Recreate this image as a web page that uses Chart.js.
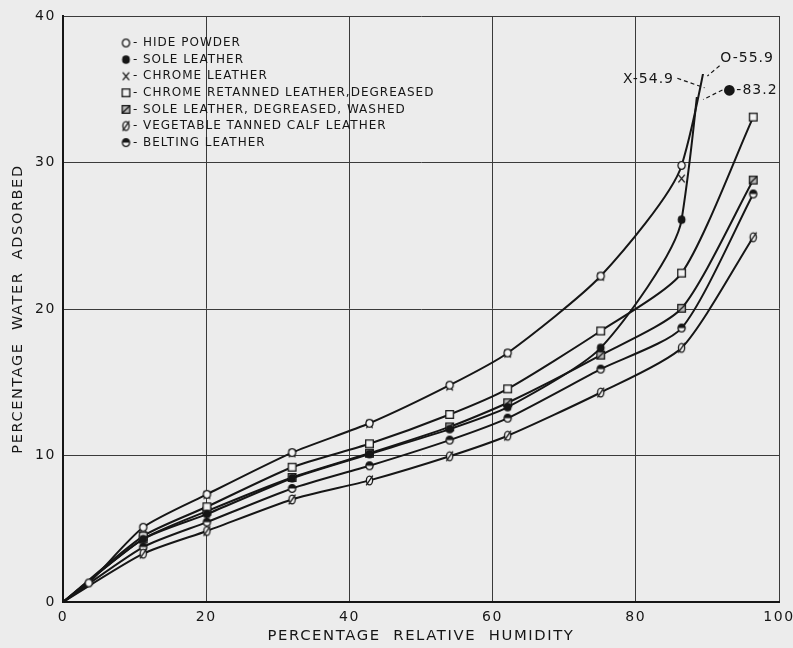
<!DOCTYPE html>
<html><head><meta charset="utf-8">
<script src="https://cdn.jsdelivr.net/npm/chart.js@4.4.1/dist/chart.umd.min.js"></script>
<style>html,body{margin:0;padding:0;background:#ececec;}canvas{display:block;}</style>
</head><body>
<canvas id="c" width="793" height="648"></canvas>
<script>
// ---- data ----
const relativeHumidity = [0, 3.6, 11.2, 20.1, 32.0, 42.8, 54.0, 62.1, 75.1, 86.4, 96.4];
const hidePowder      = [0, 1.3, 5.1, 7.35, 10.2, 12.2, 14.8, 17.0, 22.25, 29.8, 55.9];
const soleLeather     = [0, null, 4.3, 6.0, 8.45, 10.1, 11.8, 13.3, 17.35, 26.1, 83.2];
const chromeLeather   = [null, null, 5.0, 7.3, 10.15, 12.15, 14.7, 16.95, 22.2, 28.9, 54.9];
const chromeRetanned  = [0, null, 4.5, 6.5, 9.2, 10.8, 12.8, 14.55, 18.5, 22.45, 33.1];
const soleDegreased   = [0, null, 4.3, 6.2, 8.5, 10.15, 11.95, 13.6, 16.85, 20.05, 28.8];
const vegetableCalf   = [0, null, 3.3, 4.85, 7.0, 8.3, 9.95, 11.35, 14.3, 17.35, 24.9];
const beltingLeather  = [0, null, 3.75, 5.45, 7.75, 9.3, 11.05, 12.55, 15.9, 18.7, 27.85];
const xTickValues = [0, 20, 40, 60, 80, 100];
const yTickValues = [0, 10, 20, 30, 40];
const seriesLabels = ['HIDE POWDER','SOLE LEATHER','CHROME LEATHER','CHROME RETANNED LEATHER,DEGREASED','SOLE LEATHER, DEGREASED, WASHED','VEGETABLE TANNED CALF LEATHER','BELTING LEATHER'];
const offChartNotes = [
  {text:'O-55.9', at:[91.8, 37.1], from:[91.7, 36.6], to:[90.0, 35.9]},
  {text:'X-54.9', at:[78.2, 35.7], from:[85.8, 35.75], to:[89.6, 35.1]},
  {text:'●-83.2', at:[92.2, 34.95], from:[92.1, 34.95], to:[89.4, 34.3]}
];

const INK = '#161616';
function marker(kind){
  const s = 13, c = document.createElement('canvas'); c.width = s; c.height = s;
  const g = c.getContext('2d'); g.translate(s/2, s/2);
  g.lineWidth = 1.3; g.strokeStyle = INK; g.fillStyle = '#f4f4f4';
  const circ = (rx, ry) => { g.beginPath(); g.ellipse(0, 0, rx, ry, 0, 0, Math.PI*2); };
  if (kind === 'o') { circ(3.6, 3.9); g.fill(); g.stroke(); }
  else if (kind === 'dot') { g.fillStyle = INK; circ(3.9, 4.3); g.fill(); }
  else if (kind === 'x') { g.beginPath(); g.moveTo(-3.2,-3.8); g.lineTo(3.2,3.8); g.moveTo(3.2,-3.8); g.lineTo(-3.2,3.8); g.stroke(); }
  else if (kind === 'sq') { g.fillRect(-3.8,-3.8,7.6,7.6); g.strokeRect(-3.8,-3.8,7.6,7.6); }
  else if (kind === 'sqs') { g.fillStyle='#bbb'; g.fillRect(-3.8,-3.8,7.6,7.6); g.strokeRect(-3.8,-3.8,7.6,7.6);
    g.beginPath(); g.moveTo(-3.8,3.8); g.lineTo(3.8,-3.8); g.stroke(); }
  else if (kind === 'os') { circ(3.1, 4.3); g.fill(); g.stroke(); g.beginPath(); g.moveTo(-3.3,4.8); g.lineTo(3.3,-4.8); g.stroke(); }
  else if (kind === 'half') { circ(3.6, 3.9); g.fill(); g.beginPath(); g.ellipse(0,0,3.6,3.9,0,Math.PI,Math.PI*2); g.closePath(); g.fillStyle = INK; g.fill(); circ(3.6,3.9); g.stroke(); }
  return c;
}
const markers = ['o','dot','x','sq','sqs','os','half'].map(marker);

const toPoints = arr => relativeHumidity.map((x, i) => arr[i] == null ? null : {x, y: arr[i]}).filter(Boolean);
const seriesValues = [hidePowder, soleLeather, chromeLeather, chromeRetanned, soleDegreased, vegetableCalf, beltingLeather];
const clipTop = [-58, -81, 0, 0, 0, 0, 0];
const datasets = seriesValues.map((vals, i) => ({
  label: seriesLabels[i],
  data: toPoints(vals),
  showLine: i !== 2,
  borderColor: INK,
  borderWidth: 2,
  tension: 0.22,
  pointStyle: markers[i],
  pointRadius: ctx => (ctx.raw && ctx.raw.x === 0) ? 0 : 4,
  clip: {left: 2, right: 2, bottom: 2, top: clipTop[i]}
}));

const textSpacing = {
  id: 'textSpacing',
  beforeDraw(chart){ chart.ctx.letterSpacing = '1.6px'; },
  afterDraw(chart){ chart.ctx.letterSpacing = '0px'; }
};

const notesAndKey = {
  id: 'notesAndKey',
  afterDatasetsDraw(chart){
    const {ctx, chartArea: a, scales: {x, y}} = chart;
    ctx.save();
    ctx.fillStyle = INK; ctx.strokeStyle = INK;
    ctx.font = '12px "DejaVu Sans"';
    ctx.letterSpacing = '1px';
    ctx.textBaseline = 'middle';
    seriesLabels.forEach((lab, i) => {
      const cy = a.top + 27 + i * 16.6;
      const m = markers[i];
      ctx.drawImage(m, a.left + 63 - m.width/2, cy - m.height/2);
      ctx.fillText('-', a.left + 70, cy);
      ctx.fillText(lab, a.left + 80, cy);
    });
    ctx.font = '14px "DejaVu Sans"';
    ctx.letterSpacing = '1px';
    offChartNotes.forEach(n => {
      ctx.fillText(n.text, x.getPixelForValue(n.at[0]), y.getPixelForValue(n.at[1]));
      ctx.setLineDash([4, 3]); ctx.lineWidth = 1.2;
      ctx.beginPath();
      ctx.moveTo(x.getPixelForValue(n.from[0]), y.getPixelForValue(n.from[1]));
      ctx.lineTo(x.getPixelForValue(n.to[0]), y.getPixelForValue(n.to[1]));
      ctx.stroke(); ctx.setLineDash([]);
    });
    ctx.restore();
  }
};

new Chart(document.getElementById('c'), {
  type: 'line',
  data: { datasets },
  options: {
    responsive: false, animation: false, devicePixelRatio: 1,
    layout: { padding: { top: 16, right: 14, left: 0, bottom: 0 } },
    plugins: { legend: { display: false }, tooltip: { enabled: false } },
    scales: {
      x: {
        type: 'linear', min: 0, max: 100,
        afterBuildTicks: s => { s.ticks = xTickValues.map(v => ({value: v})); },
        afterFit: s => { s.height = 46; s.paddingLeft = 0; s.paddingRight = 0; },
        grid: { color: '#3a3a3a', lineWidth: 1, drawTicks: false },
        border: { color: INK, width: 2 },
        ticks: { color: INK, font: { family: 'DejaVu Sans', size: 14 }, padding: 7, maxRotation: 0 },
        title: { display: true, text: 'PERCENTAGE  RELATIVE  HUMIDITY', color: INK, font: { family: 'DejaVu Sans', size: 14.8 }, padding: { bottom: 3, top: 0 } }
      },
      y: {
        type: 'linear', min: 0, max: 40,
        afterBuildTicks: s => { s.ticks = yTickValues.map(v => ({value: v})); },
        afterFit: s => { s.width = 63; s.paddingTop = 0; s.paddingBottom = 0; },
        grid: { color: '#3a3a3a', lineWidth: 1, drawTicks: false },
        border: { color: INK, width: 2 },
        ticks: { color: INK, font: { family: 'DejaVu Sans', size: 14 }, padding: 7 },
        title: { display: true, text: 'PERCENTAGE  WATER  ADSORBED', color: INK, font: { family: 'DejaVu Sans', size: 14.5 }, padding: { top: 10, bottom: 0 } }
      }
    }
  },
  plugins: [textSpacing, notesAndKey]
});
</script>
</body></html>
